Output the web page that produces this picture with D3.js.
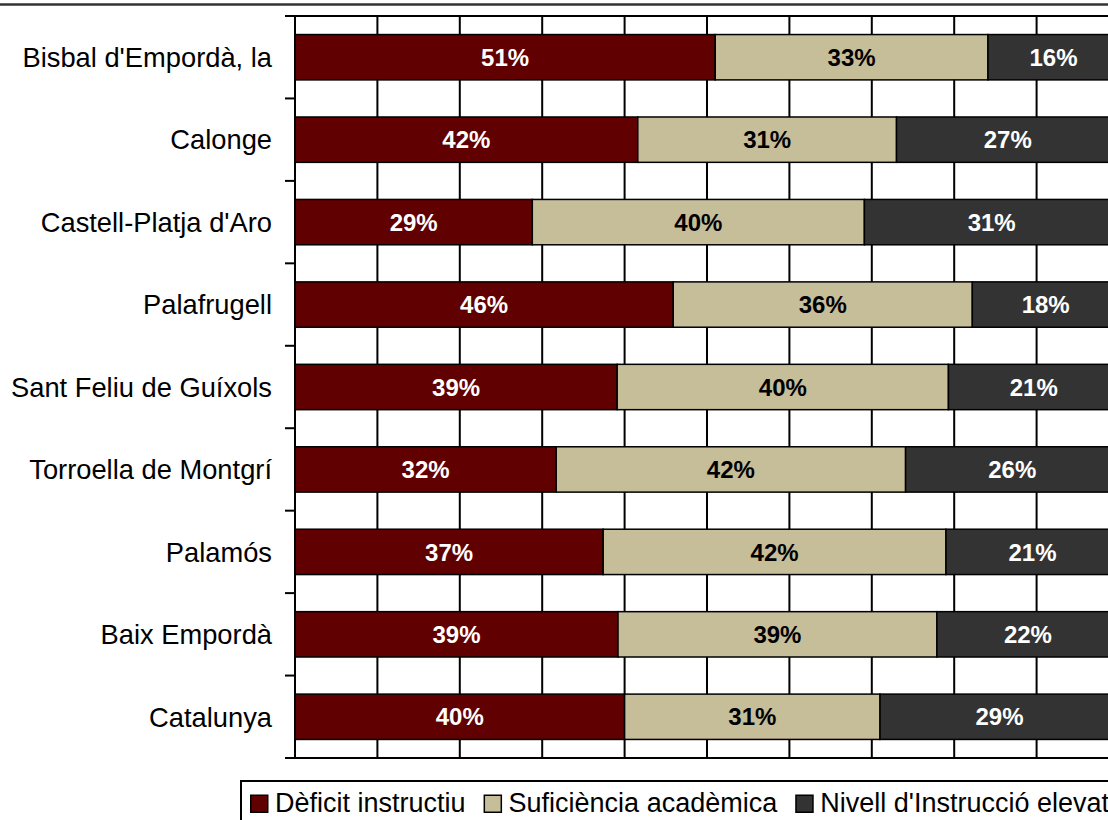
<!DOCTYPE html>
<html><head><meta charset="utf-8">
<script src="https://cdn.jsdelivr.net/npm/d3@7"></script>
<style>html,body{margin:0;padding:0;background:#fff;overflow:hidden}svg{display:block}</style>
</head><body>
<svg id="chart" width="1108" height="820"></svg>
<script>
const categories = ["Bisbal d'Empordà, la","Calonge","Castell-Platja d'Aro","Palafrugell","Sant Feliu de Guíxols","Torroella de Montgrí","Palamós","Baix Empordà","Catalunya"];
const seriesNames = ["Dèficit instructiu","Suficiència acadèmica","Nivell d'Instrucció elevat"];
const deficit     = [51.0, 41.6, 28.8, 45.9, 39.1, 31.7, 37.4, 39.2, 40.0];
const suficiencia = [33.1, 31.4, 40.3, 36.3, 40.2, 42.4, 41.6, 38.7, 31.0];
const elevat      = [15.9, 27.0, 30.9, 17.8, 20.7, 25.9, 21.0, 22.1, 29.0];
const xTicks = [0,10,20,30,40,50,60,70,80,90,100];
const colors = ["#600000","#C6BD99","#333333"];
const labelColors = ["#ffffff","#000000","#ffffff"];

const svg = d3.select("#chart");
const W = 1108, H = 820;
const mLeft = 295, mTop = 16, plotW = 824, plotH = 742;
const FONT = "'Liberation Sans', Arial, sans-serif";

const x = d3.scaleLinear().domain([0,100]).range([mLeft, mLeft+plotW]);
const y = d3.scaleBand().domain(categories).range([mTop, mTop+plotH]).paddingInner(0.45).paddingOuter(0.225);

// top outer line
svg.append("line").attr("x1",0).attr("x2",W).attr("y1",4.5).attr("y2",4.5).attr("stroke","#333").attr("stroke-width",2.5);

// vertical gridlines
svg.append("g").selectAll("line").data(xTicks).join("line")
  .attr("x1",d=>x(d)).attr("x2",d=>x(d)).attr("y1",mTop).attr("y2",mTop+plotH)
  .attr("stroke","#000").attr("stroke-width",2);
// top border
svg.append("line").attr("x1",mLeft).attr("x2",W).attr("y1",mTop).attr("y2",mTop).attr("stroke","#000").attr("stroke-width",2);

// stacked data
const rows = categories.map((c,i)=>({cat:c, vals:[deficit[i],suficiencia[i],elevat[i]]}));
const segs = [];
rows.forEach(r=>{ let acc=0; r.vals.forEach((v,k)=>{ segs.push({cat:r.cat,k,x0:acc,x1:acc+v,v}); acc+=v; }); });

svg.append("g").selectAll("rect").data(segs).join("rect")
  .attr("x",d=>x(d.x0)).attr("width",d=>x(d.x1)-x(d.x0))
  .attr("y",d=>y(d.cat)).attr("height",y.bandwidth())
  .attr("fill",d=>colors[d.k]).attr("stroke","#000").attr("stroke-width",1.5);

svg.append("g").selectAll("text").data(segs).join("text")
  .attr("x",d=>(x(d.x0)+x(d.x1))/2).attr("y",d=>y(d.cat)+y.bandwidth()/2)
  .attr("dy","0.36em").attr("text-anchor","middle")
  .attr("font-family",FONT).attr("font-weight","bold").attr("font-size",24)
  .attr("fill",d=>labelColors[d.k])
  .text(d=>Math.round(d.v)+"%");

// y axis
const yAxisG = svg.append("g");
yAxisG.append("line").attr("x1",mLeft).attr("x2",mLeft).attr("y1",mTop-1).attr("y2",mTop+plotH+1).attr("stroke","#000").attr("stroke-width",2);
const boundaries = d3.range(categories.length+1).map(i=>mTop + i*plotH/categories.length);
yAxisG.selectAll("line.tk").data(boundaries).join("line").attr("class","tk")
  .attr("x1",mLeft-10).attr("x2",mLeft).attr("y1",d=>d).attr("y2",d=>d).attr("stroke","#000").attr("stroke-width",2);
// bottom axis line
svg.append("line").attr("x1",mLeft-10).attr("x2",W).attr("y1",mTop+plotH).attr("y2",mTop+plotH).attr("stroke","#000").attr("stroke-width",2);

yAxisG.selectAll("text").data(categories).join("text")
  .attr("x",272).attr("y",d=>y(d)+y.bandwidth()/2).attr("dy","0.36em").attr("text-anchor","end")
  .attr("font-family",FONT).attr("font-size",27.3).attr("fill","#000")
  .text(d=>d);

// legend
const lg = svg.append("g");
lg.append("rect").attr("x",241).attr("y",781).attr("width",900).attr("height",60).attr("fill","#fff").attr("stroke","#000").attr("stroke-width",2);
let lx = 250;
seriesNames.forEach((n,i)=>{
  lg.append("rect").attr("x",lx+0.75).attr("y",795.25).attr("width",17).attr("height",17)
    .attr("fill",colors[i]).attr("stroke","#000").attr("stroke-width",1.5);
  const t = lg.append("text").attr("x",lx+25).attr("y",811.5)
    .attr("font-family",FONT).attr("font-size",27).attr("fill","#000").text(n);
  const w = t.node().getComputedTextLength();
  lx = lx + 25 + w + 18;
});
</script>
</body></html>
